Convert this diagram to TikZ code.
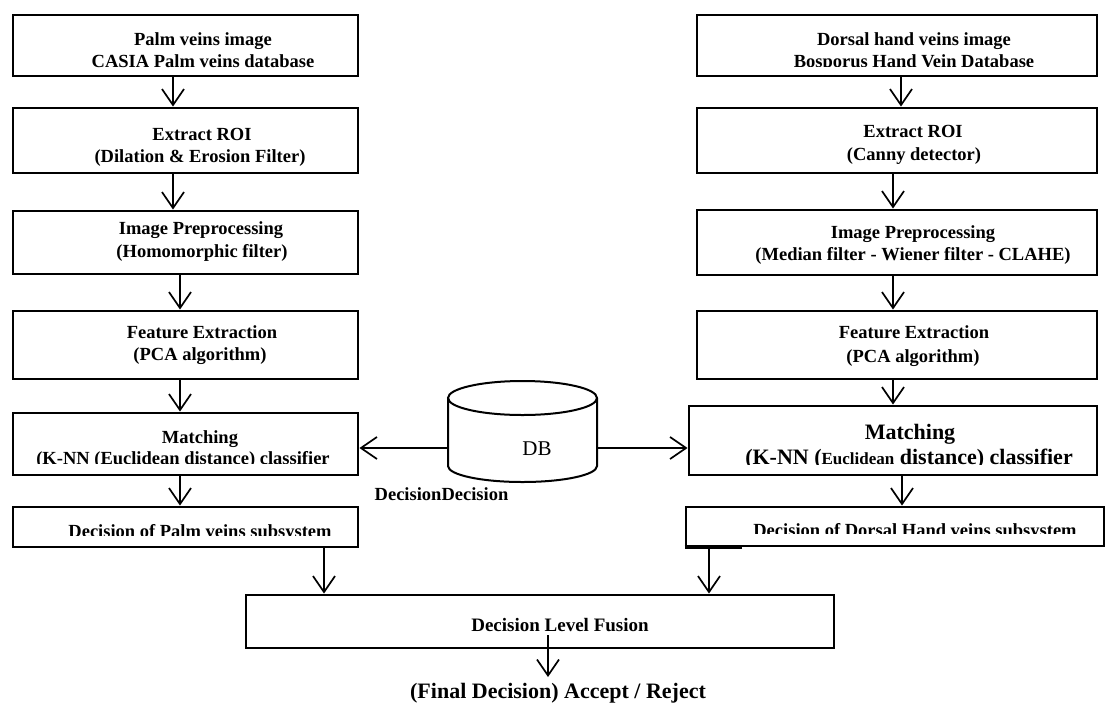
\documentclass[tikz,border=0pt]{standalone}
\usepackage{fontspec}
\setmainfont{Liberation Serif}
\usetikzlibrary{arrows.meta}
\begin{document}
\begin{tikzpicture}[x=1pt,y=-1pt,
  box/.style={draw, line width=2.9pt, inner sep=0pt},
  txt/.style={font=\bfseries\fontsize{18.5}{22}\selectfont, inner sep=0pt, anchor=base},
  bigtxt/.style={font=\bfseries\fontsize{22}{26}\selectfont, inner sep=0pt, anchor=base},
  arr/.style={line width=1.7pt, -{Straight Barb[length=16pt,width=22pt]}}]
\useasboundingbox (0,0) rectangle (1105,702);
% boxes
\node[box,minimum width=345pt,minimum height=61pt] (L1) at (185.5,45.5) {};
\node[box,minimum width=345pt,minimum height=65pt] (L2) at (185.5,140.5) {};
\node[box,minimum width=345pt,minimum height=63pt] (L3) at (185.5,242.5) {};
\node[box,minimum width=345pt,minimum height=68pt] (L4) at (185.5,345) {};
\node[box,minimum width=345pt,minimum height=62pt] (L5) at (185.5,444) {};
\node[box,minimum width=345pt,minimum height=40pt] (L6) at (185.5,527) {};
\node[box,minimum width=400pt,minimum height=61pt] (R1) at (897,45.5) {};
\node[box,minimum width=400pt,minimum height=65pt] (R2) at (897,140.5) {};
\node[box,minimum width=400pt,minimum height=65pt] (R3) at (897,242.5) {};
\node[box,minimum width=400pt,minimum height=68pt] (R4) at (897,345) {};
\node[box,minimum width=408pt,minimum height=69pt] (R5) at (893,440.5) {};
\node[box,minimum width=418pt,minimum height=39pt] (R6) at (895,526.5) {};
\node[box,minimum width=588pt,minimum height=53pt] (F) at (540,621.5) {};
% thicker segment on the lower edge of R6
\draw[line width=4pt] (R6.south west) -- ++(57,0);
% database cylinder
\draw[line width=2pt] (448,398) -- (448,466) arc[start angle=180,end angle=0,x radius=74.5,y radius=16] -- (597,398);
\draw[line width=2pt] (522.5,398) ellipse[x radius=74.5,y radius=17];
\node[font=\fontsize{21}{24}\selectfont, inner sep=0pt, anchor=base] (db) at (537,455) {DB};
\coordinate (dbl) at (448,448);
\coordinate (dbr) at (597,448);
% texts left
\node[txt] (L1a) at (203,45) {Palm veins image};
\node[txt] (L1b) at (203,67) {CASIA Palm veins database};
\node[txt] (L2a) at (202,140) {Extract ROI};
\node[txt] (L2b) at (200,162) {(Dilation \& Erosion Filter)};
\node[txt] (L3a) at (201,234) {Image Preprocessing};
\node[txt] (L3b) at (202,257) {(Homomorphic filter)};
\node[txt] (L4a) at (202,338) {Feature Extraction};
\node[txt] (L4b) at (200,360) {(PCA algorithm)};
\node[txt] (L5a) at (200,443) {Matching};
\begin{scope}
\clip (0,400) rectangle (1105,463.5);
\node[txt] (L5b) at (183,464) {(K-NN (Euclidean distance) classifier};
\end{scope}
\begin{scope}
\clip (0,500) rectangle (1105,535);
\node[txt] (L6a) at (200,537) {Decision of Palm veins subsystem};
\end{scope}
% texts right
\node[txt] (R1a) at (914,45) {Dorsal hand veins image};
\begin{scope}
\clip (600,20) rectangle (1105,66.5);
\node[txt] (R1b) at (914,67) {Bosporus Hand Vein Database};
\end{scope}
\node[txt] (R2a) at (913,137) {Extract ROI};
\node[txt] (R2b) at (914,160) {(Canny detector)};
\node[txt] (R3a) at (913,238) {Image Preprocessing};
\node[txt] (R3b) at (913,260) {(Median filter - Wiener filter - CLAHE)};
\node[txt] (R4a) at (914,338) {Feature Extraction};
\node[txt] (R4b) at (913,362) {(PCA algorithm)};
\node[bigtxt] (R5a) at (910,439) {Matching};
\begin{scope}
\clip (600,400) rectangle (1105,464);
\node[bigtxt] (R5b) at (909,464) {(K-NN ({\fontsize{17}{20}\selectfont Euclidean} distance) classifier};
\end{scope}
\begin{scope}
\clip (600,500) rectangle (1105,533);
\node[txt] (R6a) at (915,536) {Decision of Dorsal Hand veins subsystem};
\end{scope}
% other texts
\node[txt] (dd) at (441.5,500) {DecisionDecision};
\node[font=\bfseries\fontsize{19}{22}\selectfont, inner sep=0pt, anchor=base] (Ft) at (560,631) {Decision Level Fusion};
\node[bigtxt] (fin) at (558,698) {(Final Decision) Accept / Reject};
% x positions of connectors
\coordinate (xl1) at (173,0);
\coordinate (xl2) at (180,0);
\coordinate (xr1) at (901,0);
\coordinate (xr2) at (893,0);
\coordinate (xr3) at (902,0);
\coordinate (xfl) at (324,0);
\coordinate (xfr) at (709,0);
\coordinate (fstart) at (548,635);
\coordinate (fend) at (548,677);
% connectors left
\draw[arr] (L1.south -| xl1) -- (L2.north -| xl1);
\draw[arr] (L2.south -| xl1) -- (L3.north -| xl1);
\draw[arr] (L3.south -| xl2) -- (L4.north -| xl2);
\draw[arr] (L4.south -| xl2) -- (L5.north -| xl2);
\draw[arr] (L5.south -| xl2) -- (L6.north -| xl2);
\draw[arr] (L6.south -| xfl) -- (F.north -| xfl);
% connectors right
\draw[arr] (R1.south -| xr1) -- (R2.north -| xr1);
\draw[arr] (R2.south -| xr2) -- (R3.north -| xr2);
\draw[arr] (R3.south -| xr2) -- (R4.north -| xr2);
\draw[arr] (R4.south -| xr2) -- (R5.north -| xr2);
\draw[arr] (R5.south -| xr3) -- (R6.north -| xr3);
\draw[arr] (R6.south -| xfr) -- (F.north -| xfr);
% database connectors
\draw[arr] (dbl) -- (L5.east |- dbl);
\draw[arr] (dbr) -- (R5.west |- dbr);
% final
\draw[arr] (fstart) -- (fend);
\end{tikzpicture}
\end{document}
